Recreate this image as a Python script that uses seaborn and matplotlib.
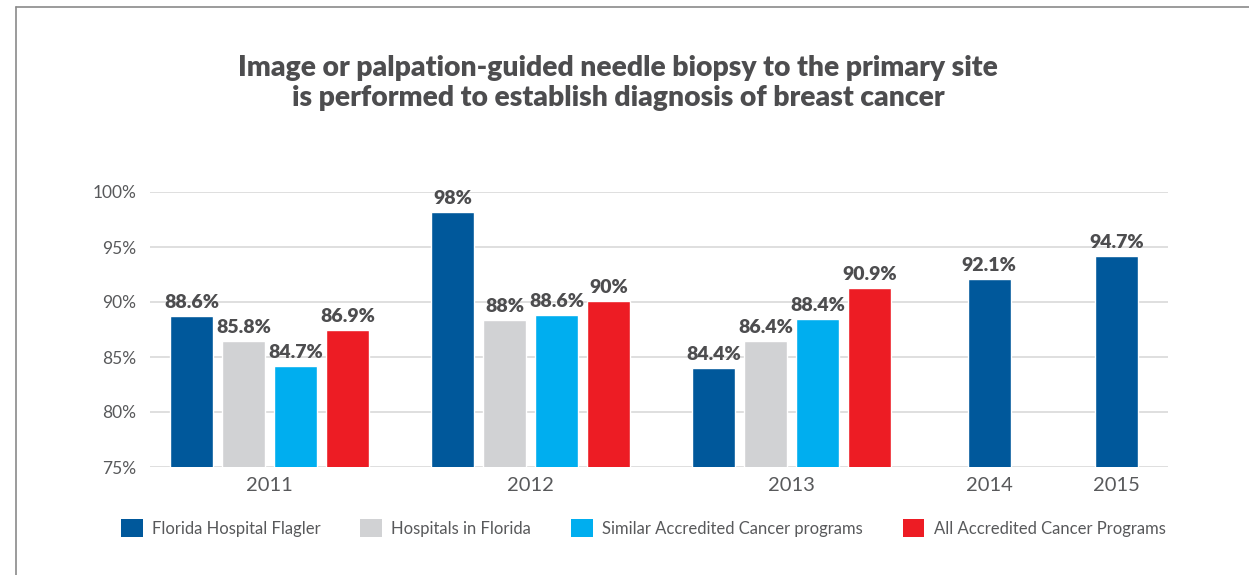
import matplotlib
matplotlib.use("Agg")
import matplotlib.pyplot as plt
from matplotlib.lines import Line2D
from matplotlib.patches import Patch
import seaborn as sns
import pandas as pd

# ---------------- data ----------------
years = ["2011", "2012", "2013", "2014", "2015"]
series_names = [
    "Florida Hospital Flagler",
    "Hospitals in Florida",
    "Similar Accredited Cancer programs",
    "All Accredited Cancer Programs",
]
# bar heights as drawn in the reference (percent)
flagler = [88.7, 98.2, 84.0, 92.1, 94.2]
hospitals_fl = [86.45, 88.4, 86.45, None, None]
similar = [84.2, 88.8, 88.5, None, None]
all_acc = [87.5, 90.1, 91.3, None, None]
# printed labels
flagler_labels = ["88.6%", "98%", "84.4%", "92.1%", "94.7%"]
hospitals_fl_labels = ["85.8%", "88%", "86.4%", None, None]
similar_labels = ["84.7%", "88.6%", "88.4%", None, None]
all_acc_labels = ["86.9%", "90%", "90.9%", None, None]

yticks = [75, 80, 85, 90, 95, 100]
ytick_labels = ["75%", "80%", "85%", "90%", "95%", "100%"]

colors = ["#00589b", "#d1d2d4", "#00aeef", "#ed1c24"]
title = ("Image or palpation-guided needle biopsy to the primary site\n"
         "is performed to establish diagnosis of breast cancer")

# ---------------- layout (in bar-pitch units) ----------------
group_start = [0.8, 5.82, 10.84, 16.14, 18.59]
x_max = 19.58

values = [flagler, hospitals_fl, similar, all_acc]
labels = [flagler_labels, hospitals_fl_labels, similar_labels, all_acc_labels]
rows = []
for i, yr in enumerate(years):
    for j, name in enumerate(series_names):
        v = values[j][i]
        if v is None:
            continue
        rows.append({"year": yr, "series": name, "pos": group_start[i] + j,
                     "value": v, "label": labels[j][i]})
df = pd.DataFrame(rows)

sns.set_theme(style="white")
FONT = ["Lato", "DejaVu Sans"]
plt.rcParams["font.family"] = FONT
TXT = "#4d4d4f"
TICK = "#58595b"

fig = plt.figure(figsize=(12.49, 5.75), dpi=100)
ax = fig.add_axes([150 / 1249, 1 - 467 / 575, (1168 - 150) / 1249, (467 - 192) / 575])

sns.barplot(data=df, x="pos", y="value", hue="series", hue_order=series_names,
            palette=colors, native_scale=True, dodge=False, width=0.83,
            saturation=1, errorbar=None, legend=False, orient="x", ax=ax)

ax.set_ylim(75, 100)
ax.set_xlim(0, x_max)
ax.set_yticks(yticks)
ax.set_yticklabels(ytick_labels)
centers = []
for i, yr in enumerate(years):
    n = int((df["year"] == yr).sum())
    centers.append(group_start[i] + (n - 1) / 2)
ax.set_xticks(centers)
ax.set_xticklabels(years)
ax.tick_params(axis="y", length=0, pad=10, labelsize=12.5, labelcolor=TICK)
ax.tick_params(axis="x", length=0, pad=7, labelsize=14.5, labelcolor=TICK)
ax.set_xlabel("")
ax.set_ylabel("")
for s in ax.spines.values():
    s.set_visible(False)
ax.yaxis.grid(True, color="#d9d9d9", linewidth=1.2)
ax.set_axisbelow(True)

# value labels
for p in ax.patches:
    h = p.get_height()
    if h is None or h != h or p.get_width() == 0:
        continue
    cx = p.get_x() + p.get_width() / 2
    idx = (df["pos"] - cx).abs().idxmin()
    ax.annotate(df.loc[idx, "label"], (cx, h), xytext=(0, 3.5),
                textcoords="offset points", ha="center", va="bottom",
                fontsize=14, fontweight="heavy", color=TXT)

# title
fig.text(0.495, 1 - 83 / 575, title, ha="center", va="center",
         fontsize=20.3, fontweight="heavy", color=TXT, linespacing=1.15)

# legend
handles = [Patch(facecolor=c, edgecolor="none") for c in colors]
fig.legend(handles, series_names, loc="center left",
           bbox_to_anchor=(121 / 1249, 1 - 528 / 575), ncol=4, frameon=False,
           fontsize=12, handlelength=1.3, handleheight=1.3,
           handletextpad=0.55, columnspacing=2.4, borderpad=0,
           borderaxespad=0, labelcolor=TICK)

# frame lines
fig.add_artist(Line2D([15.5 / 1249, 1], [1 - 6.5 / 575, 1 - 6.5 / 575],
                      transform=fig.transFigure, color="#8a8a8a", linewidth=1.2))
fig.add_artist(Line2D([15.5 / 1249, 15.5 / 1249], [0, 1 - 6.5 / 575],
                      transform=fig.transFigure, color="#8a8a8a", linewidth=1.2))

fig.savefig("out.png", dpi=100)
